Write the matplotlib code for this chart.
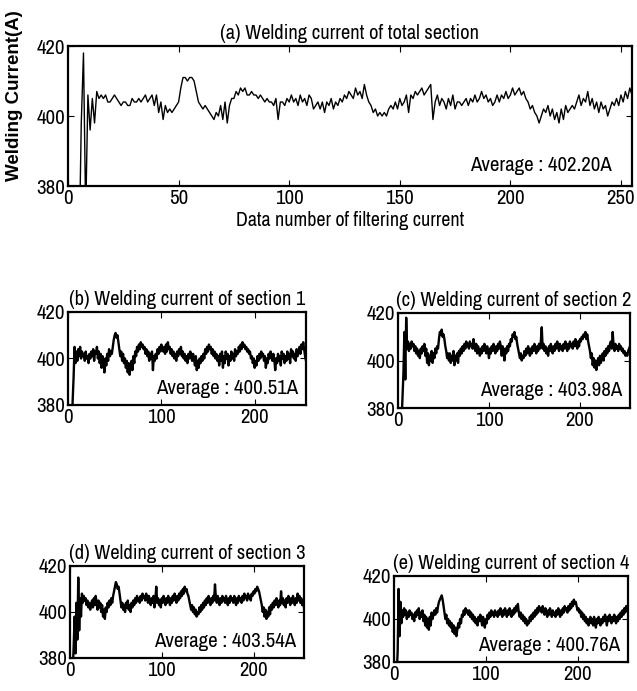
import numpy as np
import matplotlib
matplotlib.use("Agg")
import matplotlib.pyplot as plt
from matplotlib import font_manager as fm

# ----------------------------
# Data (one value per data number 1..256)
# ----------------------------
total_section = [
    360, 360, 360, 360, 360, 398, 418, 372, 406, 396, 405, 398, 407, 405, 406, 405,
    406, 404, 404, 405, 406, 405, 404, 403, 404, 404, 403, 403, 405, 404, 404, 405,
    404, 405, 406, 404, 405, 406, 403, 406, 401, 404, 399, 403, 401, 402, 401, 402,
    403, 404, 408, 411, 411, 410, 411, 411, 410, 407, 404, 403, 402, 403, 402, 401,
    400, 399, 401, 400, 403, 399, 404, 398, 403, 405, 405, 407, 406, 408, 407, 408,
    406, 406, 407, 406, 406, 405, 406, 405, 404, 405, 404, 404, 403, 405, 399, 404,
    404, 403, 405, 404, 406, 404, 405, 403, 406, 404, 405, 403, 406, 405, 402, 403,
    404, 402, 404, 401, 404, 403, 405, 402, 404, 403, 405, 404, 406, 405, 407, 406,
    405, 408, 406, 407, 405, 409, 406, 404, 403, 401, 402, 400, 401, 400, 401, 400,
    402, 403, 402, 404, 402, 405, 403, 404, 406, 401, 406, 405, 407, 406, 407, 408,
    406, 407, 408, 409, 399, 404, 406, 403, 405, 404, 402, 405, 403, 406, 402, 404,
    404, 403, 404, 405, 403, 405, 404, 406, 404, 405, 407, 405, 406, 404, 405, 403,
    404, 406, 404, 406, 405, 407, 405, 406, 408, 406, 407, 408, 406, 407, 405, 404,
    402, 403, 401, 400, 398, 400, 402, 401, 403, 400, 402, 399, 401, 398, 402, 399,
    403, 401, 402, 403, 402, 404, 406, 403, 405, 404, 407, 403, 405, 402, 404, 401,
    404, 402, 403, 400, 402, 404, 403, 405, 403, 406, 404, 407, 405, 408, 406, 408,
]

section1 = [
    370, 370, 370, 370, 382, 392, 405, 398, 403, 399, 404, 401, 405, 400, 403, 401,
    402, 399, 403, 400, 401, 398, 402, 400, 403, 401, 404, 399, 403, 402, 405, 400,
    403, 398, 402, 396, 401, 399, 394, 400, 397, 402, 399, 404, 401, 403, 402, 405,
    408, 410, 411, 409, 410, 407, 404, 401, 403, 399, 402, 398, 400, 396, 399, 394,
    398, 393, 397, 399, 395, 401, 398, 403, 401, 405, 403, 406, 404, 407, 405, 406,
    404, 405, 402, 404, 401, 403, 399, 402, 400, 403, 395, 401, 399, 402, 400, 404,
    402, 405, 403, 406, 404, 403, 405, 402, 406, 403, 407, 404, 405, 402, 404, 401,
    403, 400, 402, 399, 403, 401, 404, 402, 405, 401, 403, 400, 402, 399, 401, 398,
    402, 400, 403, 401, 399, 402, 400, 397, 401, 395, 399, 396, 400, 398, 401, 399,
    402, 400, 404, 402, 405, 403, 406, 404, 405, 402, 404, 401, 403, 400, 402, 399,
    401, 397, 402, 399, 403, 396, 401, 398, 403, 400, 402, 397, 401, 399, 403, 400,
    402, 399, 404, 401, 403, 402, 405, 403, 406, 404, 407, 405, 406, 404, 405, 403,
    404, 402, 403, 400, 401, 398, 400, 396, 399, 397, 401, 399, 402, 400, 403, 401,
    402, 399, 401, 396, 400, 398, 402, 400, 403, 401, 399, 402, 400, 395, 400, 398,
    402, 399, 401, 397, 403, 400, 402, 398, 401, 399, 403, 400, 402, 398, 404, 401,
    403, 400, 402, 399, 404, 401, 403, 405, 402, 406, 404, 407, 404, 401, 399, 400,
]

section2 = [
    370, 370, 370, 375, 385, 395, 412, 392, 418, 405, 408, 404, 407, 405, 408, 406,
    407, 404, 406, 403, 405, 402, 404, 401, 405, 403, 406, 404, 407, 402, 405, 399,
    403, 398, 402, 400, 404, 399, 403, 401, 405, 403, 406, 405, 409, 412, 411, 413,
    410, 411, 409, 406, 404, 401, 403, 400, 403, 399, 402, 400, 404, 398, 402, 400,
    403, 399, 404, 402, 405, 403, 406, 404, 407, 405, 408, 406, 407, 405, 408, 406,
    407, 405, 409, 406, 404, 407, 403, 406, 404, 402, 405, 403, 406, 404, 407, 405,
    403, 406, 404, 401, 405, 403, 406, 404, 407, 405, 403, 406, 404, 407, 405, 408,
    406, 402, 406, 404, 400, 405, 403, 406, 404, 407, 406, 409, 408, 411, 410, 412,
    409, 410, 407, 405, 403, 401, 403, 400, 402, 401, 404, 402, 405, 403, 406, 404,
    402, 405, 403, 406, 404, 407, 405, 403, 406, 404, 407, 405, 408, 414, 405, 407,
    404, 406, 403, 405, 402, 406, 404, 407, 405, 403, 406, 404, 407, 405, 408, 406,
    404, 407, 405, 406, 404, 407, 405, 408, 406, 404, 407, 405, 408, 406, 407, 405,
    408, 406, 409, 407, 405, 408, 406, 409, 408, 410, 409, 411, 410, 412, 409, 411,
    408, 406, 404, 401, 403, 398, 401, 397, 400, 396, 399, 401, 398, 402, 399, 401,
    403, 400, 404, 402, 405, 403, 406, 404, 407, 408, 405, 412, 406, 404, 407, 405,
    406, 404, 407, 405, 406, 404, 405, 403, 404, 402, 403, 402, 404, 405, 406, 405,
]

section3 = [
    370, 370, 375, 385, 398, 382, 404, 388, 415, 392, 406, 398, 408, 404, 407, 405,
    406, 403, 405, 402, 404, 401, 403, 405, 402, 406, 403, 407, 404, 401, 405, 402,
    404, 400, 403, 398, 401, 397, 402, 400, 404, 402, 405, 403, 406, 404, 407, 409,
    411, 413, 412, 410, 411, 408, 405, 402, 404, 401, 403, 400, 404, 402, 405, 401,
    403, 400, 404, 402, 405, 403, 406, 404, 407, 405, 406, 404, 407, 405, 408, 406,
    407, 405, 408, 406, 404, 407, 405, 403, 406, 404, 407, 402, 405, 411, 404, 406,
    403, 405, 402, 406, 404, 407, 405, 403, 406, 404, 407, 405, 403, 406, 404, 407,
    405, 408, 406, 404, 407, 405, 408, 406, 409, 407, 410, 408, 411, 409, 410, 408,
    407, 405, 403, 401, 403, 400, 402, 399, 401, 398, 400, 399, 402, 400, 403, 401,
    404, 402, 405, 403, 406, 404, 407, 405, 403, 406, 404, 407, 405, 412, 406, 404,
    407, 405, 403, 406, 404, 407, 405, 406, 404, 407, 405, 403, 406, 404, 407, 405,
    406, 404, 407, 405, 403, 406, 404, 407, 405, 406, 404, 407, 405, 408, 406, 407,
    405, 408, 406, 407, 405, 408, 407, 409, 408, 410, 409, 411, 410, 409, 407, 405,
    403, 400, 402, 398, 401, 397, 400, 398, 402, 399, 403, 401, 404, 402, 405, 403,
    406, 404, 402, 405, 403, 409, 404, 406, 403, 405, 402, 406, 404, 407, 405, 403,
    406, 404, 407, 405, 403, 406, 404, 408, 405, 407, 404, 406, 403, 405, 402, 400,
]

section4 = [
    370, 370, 375, 385, 414, 392, 408, 398, 404, 401, 405, 402, 404, 400, 403, 401,
    404, 402, 403, 400, 402, 399, 403, 401, 404, 402, 405, 400, 403, 401, 404, 399,
    402, 397, 401, 396, 400, 395, 401, 397, 403, 400, 402, 404, 402, 405, 403, 406,
    408, 409, 410, 411, 409, 406, 403, 400, 402, 398, 400, 397, 399, 396, 398, 394,
    397, 393, 396, 392, 395, 398, 396, 400, 398, 402, 401, 404, 402, 405, 403, 404,
    402, 404, 401, 403, 400, 402, 399, 401, 398, 400, 397, 401, 399, 402, 400, 397,
    401, 399, 396, 400, 398, 402, 400, 403, 401, 404, 402, 403, 401, 404, 402, 403,
    401, 404, 402, 405, 403, 401, 404, 402, 405, 403, 401, 404, 402, 405, 403, 401,
    404, 402, 405, 403, 406, 404, 407, 403, 401, 403, 400, 402, 399, 401, 398, 400,
    397, 399, 398, 401, 399, 402, 400, 403, 401, 404, 402, 405, 403, 406, 404, 405,
    403, 406, 404, 402, 405, 403, 401, 404, 402, 405, 403, 401, 404, 402, 403, 401,
    404, 402, 405, 403, 401, 404, 402, 405, 403, 406, 404, 405, 403, 406, 404, 407,
    405, 408, 406, 409, 407, 408, 406, 404, 405, 403, 404, 401, 403, 400, 402, 399,
    401, 398, 400, 397, 399, 401, 398, 400, 397, 401, 399, 396, 400, 398, 401, 399,
    397, 400, 398, 401, 399, 402, 400, 397, 401, 399, 402, 400, 398, 401, 399, 402,
    400, 398, 401, 399, 402, 400, 403, 401, 404, 402, 405, 403, 406, 404, 406, 407,
]

titles = [
    "(a) Welding current of total section",
    "(b) Welding current of section 1",
    "(c) Welding current of section 2",
    "(d) Welding current of section 3",
    "(e) Welding current of section 4",
]
averages = ["402.20A", "400.51A", "403.98A", "403.54A", "400.76A"]
series = [total_section, section1, section2, section3, section4]

xticks_top = [0, 50, 100, 150, 200, 250]
xticks_small = [0, 100, 200]
yticks = [380, 400, 420]

# narrow font like the scanned figure; shrink if we have to fall back
installed = {f.name for f in fm.fontManager.ttflist}
narrow = next((n for n in ["Liberation Sans Narrow", "Archivo Narrow"] if n in installed), None)
if narrow:
    plt.rcParams["font.family"] = [narrow, "DejaVu Sans"]
    fs_tick, fs_title, fs_avg, fs_xlab = 15, 14.8, 15, 14.4
else:
    plt.rcParams["font.family"] = ["DejaVu Sans"]
    fs_tick, fs_title, fs_avg, fs_xlab = 11, 10, 10.5, 10.5

W, H = 637, 691

def rect(l, t, r, b):
    # pixel box -> figure fraction
    return [l / W, 1 - b / H, (r - l) / W, (b - t) / H]

boxes = [
    rect(68, 46, 632, 186),
    rect(68, 312, 306, 405),
    rect(398, 313, 630, 408),
    rect(70, 566, 304, 658),
    rect(394, 576, 628, 662),
]

fig = plt.figure(figsize=(W / 100, H / 100), dpi=100)

for i, (box, y, title, avg) in enumerate(zip(boxes, series, titles, averages)):
    ax = fig.add_axes(box)
    x = np.arange(1, len(y) + 1)
    big = (i == 0)
    ax.plot(x, y, color="black", lw=1.0 if big else 1.7)
    ax.set_xlim(0, 255)
    ax.set_ylim(380, 420)
    ax.set_yticks(yticks)
    ax.set_xticks(xticks_top if big else xticks_small)
    ax.tick_params(direction="in", top=True, right=True, length=4,
                   labelsize=fs_tick, pad=2)
    for s in ax.spines.values():
        s.set_linewidth(1.6)
    ax.set_title(title, fontsize=fs_title, pad=5)
    ax.text(0.965, 0.08, "Average : " + avg, transform=ax.transAxes,
            ha="right", va="bottom", fontsize=fs_avg)
    if big:
        ax.set_xlabel("Data number of filtering current", fontsize=fs_xlab, labelpad=2)

fig.text(0.022, 0.862, "Welding Current(A)", rotation=90, ha="center", va="center",
         fontsize=13.5, fontweight="bold", family=["Liberation Sans", "DejaVu Sans"])

fig.savefig("out.png", dpi=100)
